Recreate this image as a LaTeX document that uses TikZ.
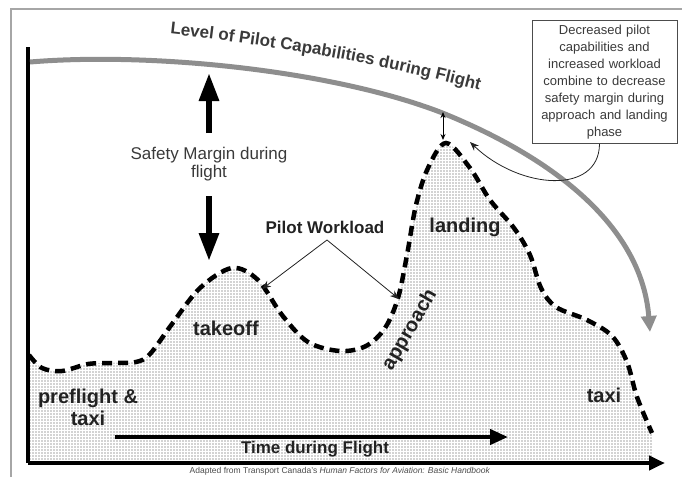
\documentclass[tikz,border=0pt]{standalone}
\usepackage{fontspec}
\setmainfont{Liberation Sans}
\usetikzlibrary{arrows.meta,patterns,decorations.text}
\definecolor{capgray}{HTML}{8E8E8E}
\definecolor{txtdark}{HTML}{222222}
\definecolor{txtmid}{HTML}{3A3A3A}
\pgfdeclarepatternformonly{densedots}{\pgfqpoint{-1pt}{-1pt}}{\pgfqpoint{1pt}{1pt}}{\pgfqpoint{3pt}{3pt}}%
  {\pgfpathcircle{\pgfqpoint{0pt}{0pt}}{0.55pt}\pgfusepath{fill}}
\begin{document}
\begin{tikzpicture}[x=1pt,y=-1pt,
  boldlbl/.style={font=\fontsize{20}{22}\selectfont\bfseries, text=txtdark, inner sep=0pt, align=center},
  midlbl/.style={font=\fontsize{17}{18}\selectfont\bfseries, text=txtdark, inner sep=0pt},
  thinarrow/.style={draw=txtdark, line width=0.8pt, -{Stealth[length=9pt,width=7pt]}},
  fatarrow/.style={draw=black, line width=6pt, -{Triangle[length=28pt,width=19pt]}},
  workload/.style={draw=black, line width=4.5pt, dash pattern=on 10pt off 6pt},
]
\useasboundingbox (0,0) rectangle (682,477);
% frame
\draw[black!35, line width=1.2pt] (11,477) -- (11,9) -- (682,9);

% workload fill
\fill[pattern=densedots, pattern color=black!75]
  plot[smooth, tension=0.55] coordinates {(29,355) (42,368) (62,371) (88,364) (113,363) (136,362) (150,354) (172,324) (200,288) (232,268) (258,280) (282,315) (308,342) (340,351) (366,346) (385,328) (398,298) (407,255) (416,205) (428,168) (446,143) (470,168) (490,200) (514,228) (530,255) (541,288) (556,307) (587,320) (612,336) (627,362) (637,397) (652,433)}
  -- (652,463) -- (29,463) -- cycle;
% workload curve
\draw[workload]
  plot[smooth, tension=0.55] coordinates {(29,355) (42,368) (62,371) (88,364) (113,363) (136,362) (150,354) (172,324) (200,288) (232,268) (258,280) (282,315) (308,342) (340,351) (366,346) (385,328) (398,298) (407,255) (416,205) (428,168) (446,143) (470,168) (490,200) (514,228) (530,255) (541,288) (556,307) (587,320) (612,336) (627,362) (637,397) (652,433)};

% axes
\coordinate (origin) at (28,463);
\coordinate (ytop) at (28,47);
\coordinate (xend) at (665,463);
\draw[black, line width=4pt] (ytop) -- (origin);
\draw[black, line width=4pt, -{Triangle[length=16pt,width=14pt]}] (origin) -- (xend);

% capability curve
\draw[capgray, line width=5pt, -{Triangle[length=16pt,width=15pt]}]
  (30,62) .. controls (150,52) and (330,70) .. (440,112)
  .. controls (560,160) and (642,230) .. (650,332);
\path[decorate, decoration={text along path, text color=txtmid,
  text={|\fontsize{17}{17}\selectfont\bfseries|Level of Pilot Capabilities during Flight}}]
  (170,34) .. controls (260,44) and (380,62) .. (505,97);

% safety margin
\node[font=\fontsize{17}{18}\selectfont, text=txtmid, align=center, inner sep=0pt] (safety) at (209,164) {Safety Margin during\\flight};
\coordinate (upfrom) at (209,133);
\coordinate (upto) at (209,73);
\coordinate (dnfrom) at (209,196);
\coordinate (dnto) at (209,261);
\draw[fatarrow] (upfrom) -- (upto);
\draw[fatarrow] (dnfrom) -- (dnto);

% small double arrow
\coordinate (mtop) at (443,112);
\coordinate (mbot) at (443,140);
\draw[black, line width=0.9pt, {Stealth[length=6pt,width=5pt]}-{Stealth[length=6pt,width=5pt]}] (mtop) -- (mbot);

% pilot workload label
\node[midlbl] (pw) at (325,227) {Pilot Workload};
\coordinate (pwfork) at (327,240);
\coordinate (pwa) at (262,289);
\coordinate (pwb) at (399,299);
\draw[thinarrow] (pwfork) -- (pwa);
\draw[thinarrow] (pwfork) -- (pwb);

% phase labels
\node[boldlbl] (pre) at (88,407) {preflight \&\\taxi};
\node[boldlbl] (take) at (226,328) {takeoff};
\node[boldlbl] (land) at (465,227) {landing};
\node[boldlbl] (taxi) at (604,395) {taxi};
\node[boldlbl, rotate=60] (appr) at (410,330) {approach};

% time arrow
\coordinate (tstart) at (115,437);
\coordinate (tend) at (508,437);
\draw[black, line width=4pt, -{Triangle[length=18pt,width=15pt]}] (tstart) -- (tend);
\node[midlbl] (time) at (315,449) {Time during Flight};

% note box
\node[draw=black!70, line width=1pt, minimum width=145pt, minimum height=123pt, text width=140pt, align=center,
  font=\fontsize{13}{17}\selectfont, text=txtmid, inner sep=0pt] (note) at (604.5,82)
  {Decreased pilot\\capabilities and\\increased workload\\combine to decrease\\safety margin during\\approach and landing\\phase};
\coordinate (peak) at (470,142);
\draw[thinarrow] ([xshift=-5pt]note.south) .. controls (599,195) and (520,190) .. (peak);

% caption
\node[font=\fontsize{8.5}{9}\selectfont, text=black!70, inner sep=0pt] (cap) at (340,471)
  {Adapted from Transport Canada's \textit{Human Factors for Aviation: Basic Handbook}};
\end{tikzpicture}
\end{document}
